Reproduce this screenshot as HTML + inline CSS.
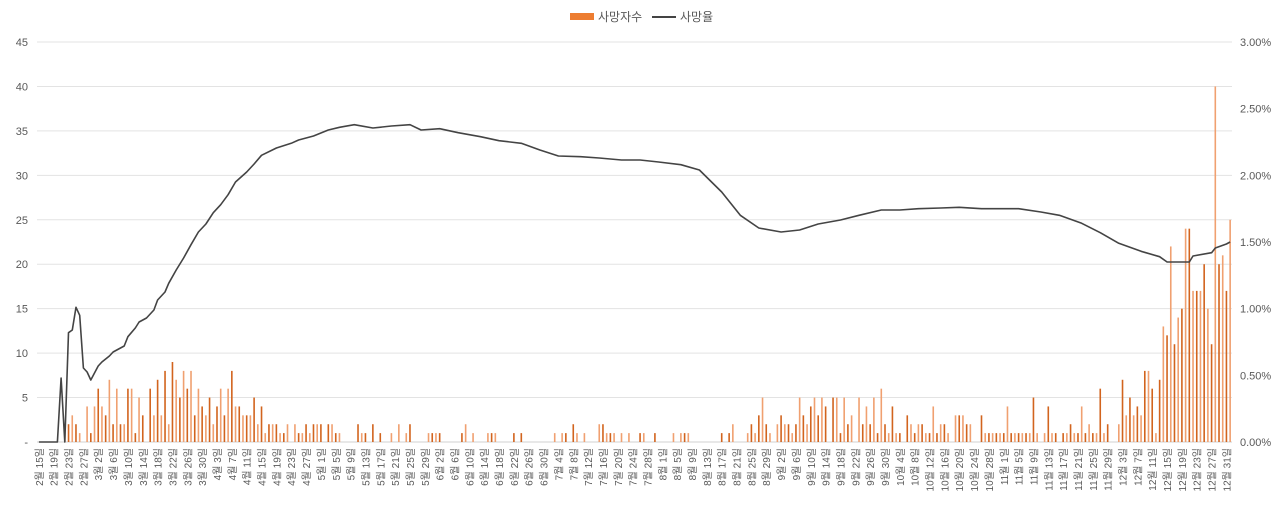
<!DOCTYPE html>
<html><head><meta charset="utf-8">
<style>
body{margin:0;background:#fff;}
svg{display:block;font-family:"Liberation Sans","Noto Sans CJK KR",sans-serif;}
</style></head>
<body>
<svg id="chart" width="1280" height="506"></svg>
<script>
const deaths = [0,0,0,0,0,0,0,2,2,3,2,1,0,4,1,4,6,4,3,7,2,6,2,2,6,6,1,5,3,0,
6,3,7,3,8,2,9,7,5,8,6,8,3,6,4,3,5,2,4,6,3,6,8,4,4,3,3,3,5,2,4,
1,2,2,2,1,1,2,0,2,1,1,2,1,2,2,2,0,2,2,1,1,0,0,0,0,2,1,1,0,2,0,1,0,0,1,0,2,0,1,2,
0,0,0,0,1,1,1,1,0,0,0,0,0,1,2,0,1,0,0,0,1,1,1,0,0,0,0,1,0,1,0,0,0,0,0,0,0,0,1,0,1,1,0,2,1,0,1,0,0,0,2,2,1,1,1,0,1,0,1,0,0,1,1,0,0,1,0,0,0,0,1,0,1,1,1,
0,0,0,0,0,0,0,0,1,0,1,2,0,0,0,1,2,1,3,5,2,1,0,2,3,2,2,1,2,5,3,2,4,5,3,5,4,0,5,5,1,5,2,3,0,5,2,4,2,5,1,6,2,1,4,1,1,0,3,2,1,2,2,1,1,4,1,2,2,1,0,3,3,3,2,2,0,0,3,1,1,1,1,
1,1,4,1,1,1,1,1,1,5,1,0,1,4,1,1,0,1,1,2,1,1,4,1,2,1,1,6,1,2,0,0,2,7,3,5,3,4,3,8,8,6,1,7,13,12,22,11,14,15,24,24,17,17,17,20,15,11,40,20,21,17,25];
const lineDays = [0,5,6,7,8,9,10,11,12,13,14,16,17,19,20,21,22,23,24,26,27,29,31,32,34,35,37,39,41,43,45,47,49,51,53,56,58,60,64,68,70,74,78,81,85,90,95,100,103,108,113,119,124,130,135,140,146,151,157,162,167,173,178,184,189,194,200,205,210,216,221,227,232,237,243,248,254,259,264,270,275,281,286,291,297,302,304,310,311,316,317,320,321];
const lineRates = [0,0,0.48,0,0.82,0.84,1.01,0.95,0.555,0.525,0.465,0.57,0.60,0.645,0.675,0.69,0.705,0.72,0.79,0.855,0.90,0.93,0.99,1.065,1.125,1.19,1.29,1.38,1.48,1.575,1.635,1.72,1.78,1.855,1.95,2.025,2.085,2.15,2.205,2.24,2.265,2.295,2.34,2.36,2.38,2.355,2.37,2.38,2.34,2.35,2.32,2.29,2.26,2.24,2.19,2.145,2.14,2.13,2.115,2.115,2.10,2.08,2.04,1.875,1.70,1.605,1.575,1.59,1.635,1.665,1.70,1.74,1.74,1.75,1.755,1.76,1.75,1.75,1.75,1.725,1.70,1.64,1.57,1.49,1.43,1.39,1.35,1.35,1.395,1.42,1.455,1.485,1.50];
const leftTicks = ["-","5","10","15","20","25","30","35","40","45"];
const rightTicks = ["0.00%","0.50%","1.00%","1.50%","2.00%","2.50%","3.00%"];

const NS="http://www.w3.org/2000/svg";
const svg=document.getElementById('chart');
const X0=37,X1=1232,Y0=442,Y1=42;
const N=deaths.length, band=(X1-X0)/N;
const xc=i=>X0+(i+0.5)*band;
const yL=v=>Y0-(v/45)*(Y0-Y1);
const yR=v=>Y0-(v/3)*(Y0-Y1);
function mk(t,a,p){const e=document.createElementNS(NS,t);for(const k in a)e.setAttribute(k,a[k]);(p||svg).appendChild(e);return e;}

for(let i=0;i<leftTicks.length;i++){
  const y=yL(i*5);
  const g=mk('line',{x1:X0,x2:X1,y1:y,y2:y,stroke:i==0?'#d0d0d0':'#e3e3e3','stroke-width':1});
  
  
  const t=mk('text',{x:28,y:y+4,'text-anchor':'end','font-size':11,fill:'#595959'});
  t.textContent=leftTicks[i];
  
  
}
for(let i=0;i<rightTicks.length;i++){
  const t=mk('text',{x:1240,y:yR(i*0.5)+4,'font-size':11,fill:'#595959'});
  t.textContent=rightTicks[i];
  
  
}
deaths.forEach((v,i)=>{
  if(v<=0)return;
  const b=mk('rect',{x:xc(i)-0.8,y:yL(v),width:1.6,height:Y0-yL(v),fill:i%2?'#F0A070':'#D2641E'});
  
  
});
let d='';
lineDays.forEach((dd,k)=>{d+=(k?'L':'M')+xc(dd).toFixed(1)+' '+yR(lineRates[k]).toFixed(1);});
const ln=mk('path',{d:d,fill:'none',stroke:'#444444','stroke-width':1.6,'stroke-linejoin':'round'});



const start=new Date(2020,1,15);
for(let i=0;i<=320;i+=4){
  const dt=new Date(start.getTime()+i*86400000);
  const x=xc(i)+4;
  const t=mk('text',{x:x,y:448,'text-anchor':'end','font-size':10,fill:'#595959',transform:`rotate(-90 ${x} 448)`});
  t.textContent=(dt.getMonth()+1)+'월 '+dt.getDate()+'일';
  
  
}
const lg=mk('g',{});


const r1=mk('rect',{x:570,y:13,width:24,height:7,fill:'#ED7D31'},lg);


const t1=mk('text',{x:598,y:21,'font-size':12,fill:'#595959'},lg);t1.textContent='사망자수';


const l2=mk('line',{x1:652,x2:676,y1:17,y2:17,stroke:'#444444','stroke-width':2},lg);


const t2=mk('text',{x:680,y:21,'font-size':12,fill:'#595959'},lg);t2.textContent='사망율';


</script>
</body></html>
